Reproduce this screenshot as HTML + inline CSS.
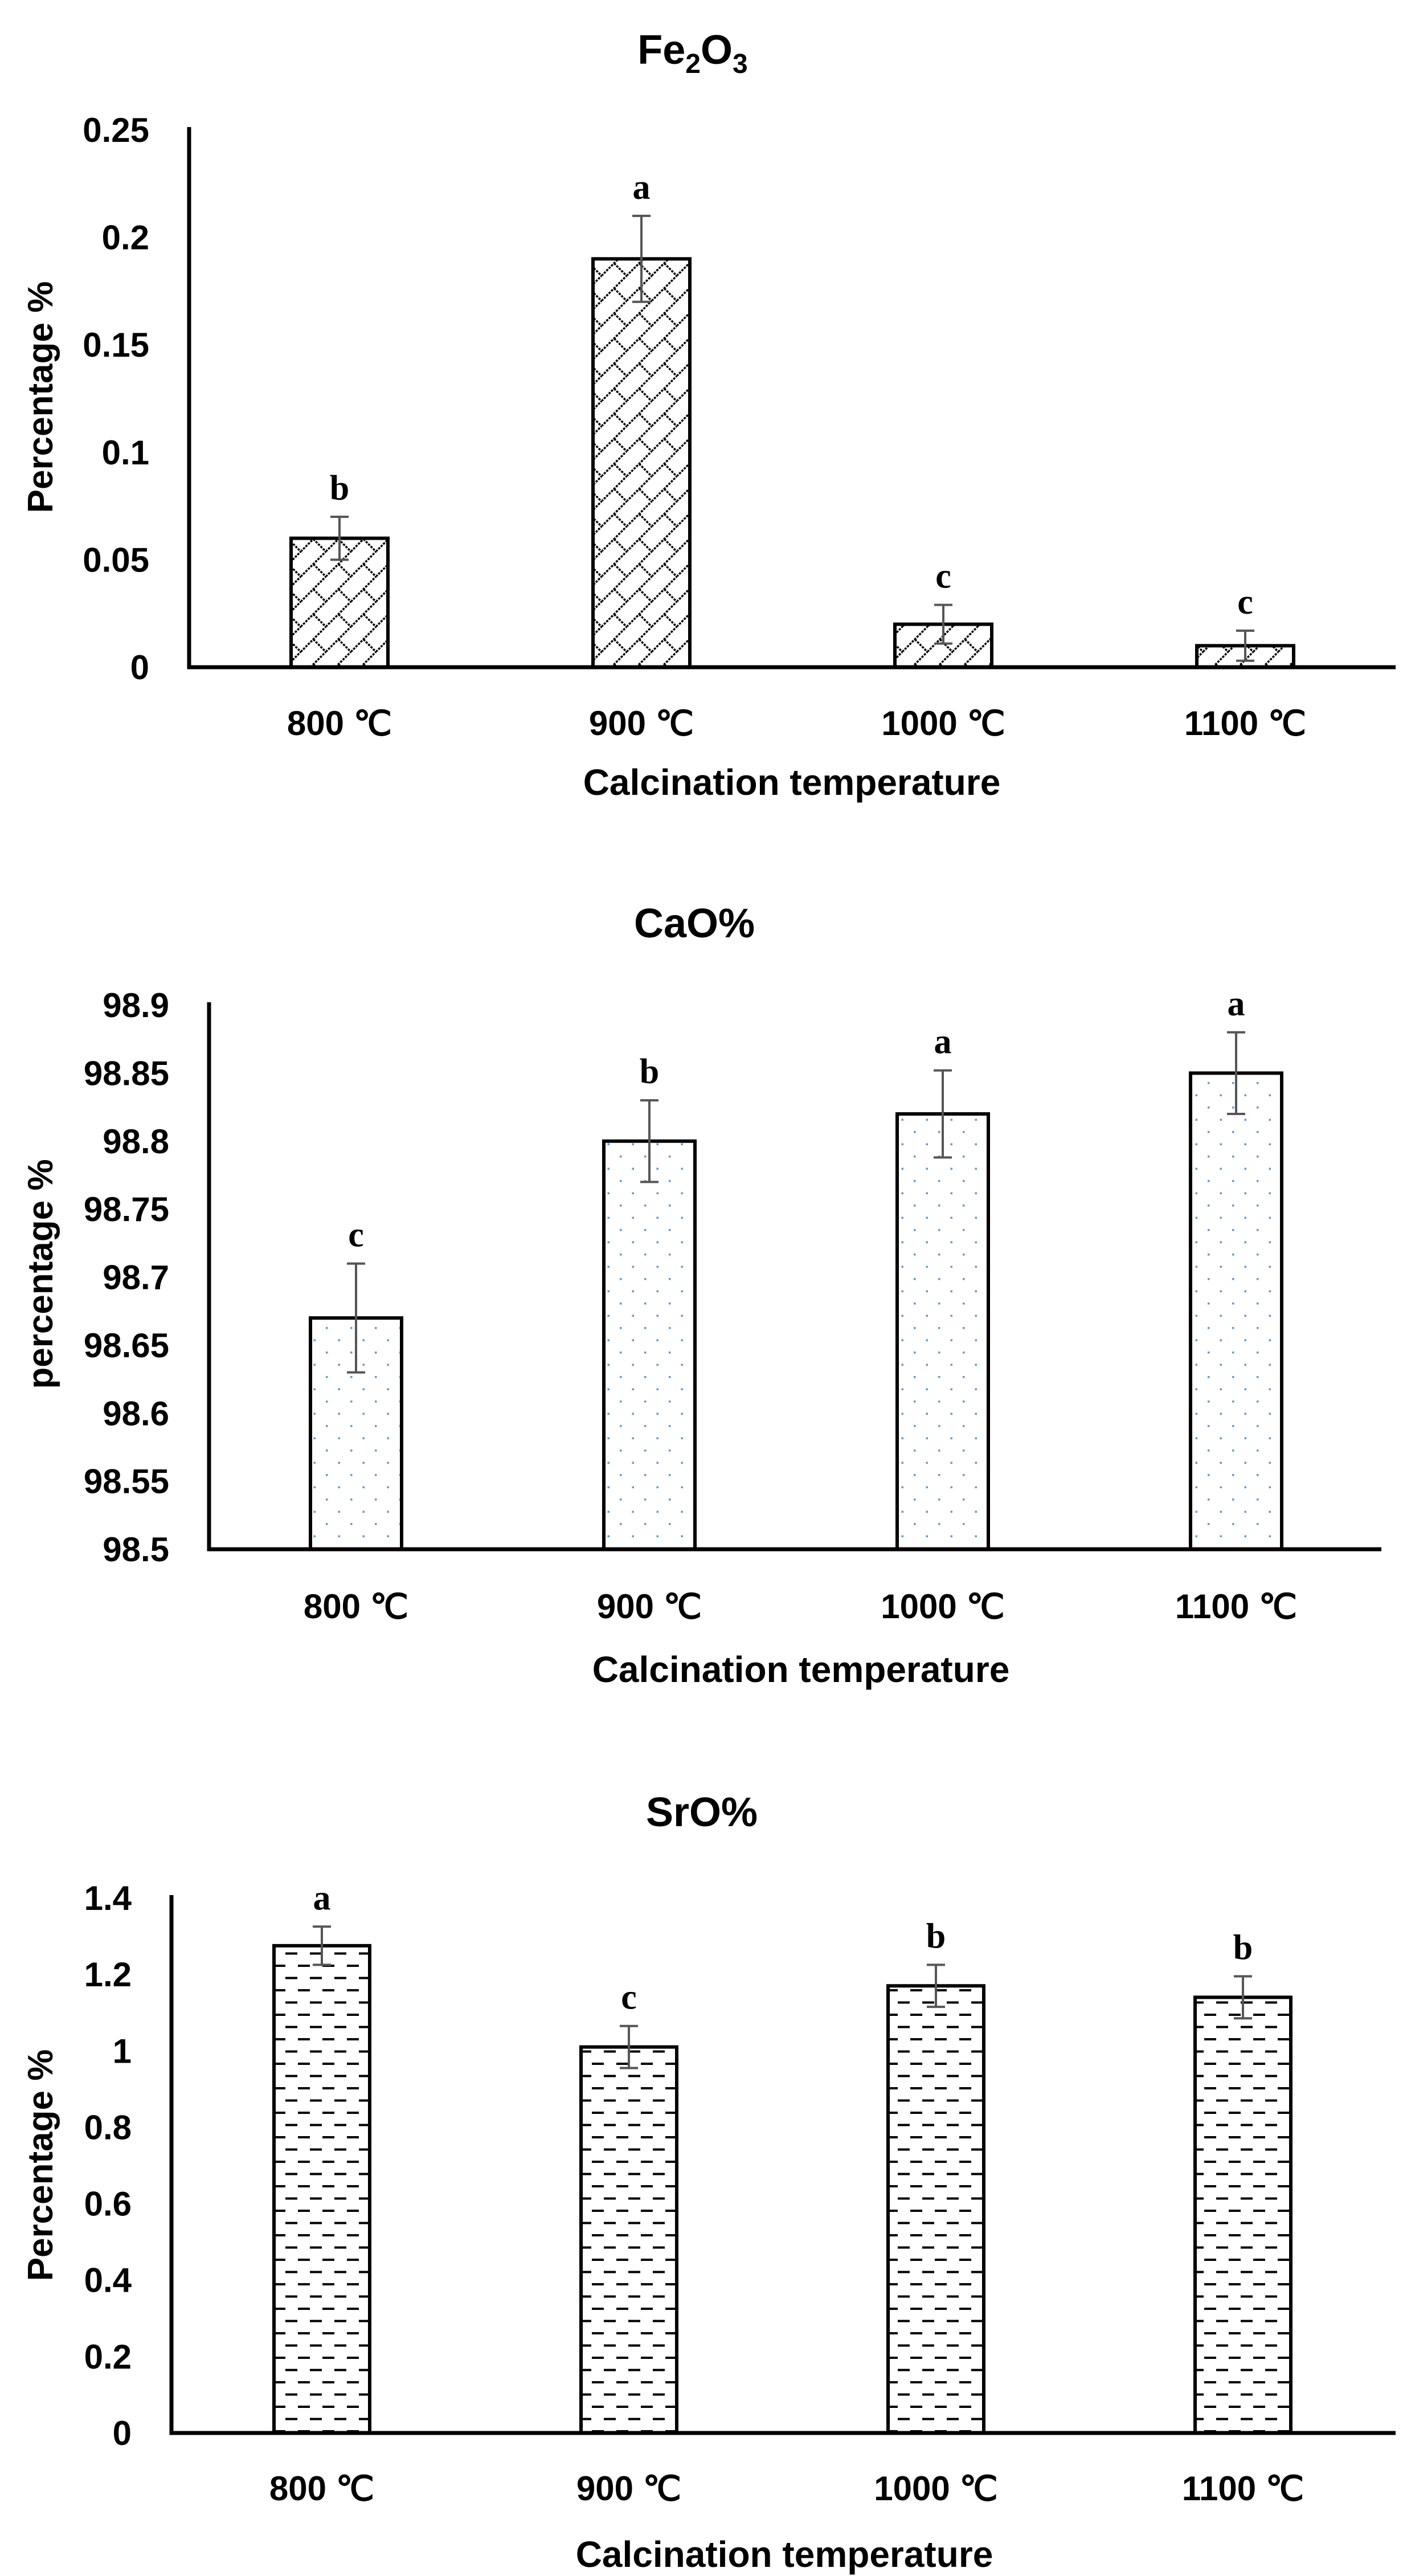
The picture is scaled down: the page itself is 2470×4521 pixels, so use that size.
<!DOCTYPE html>
<html><head><meta charset="utf-8"><style>
html,body{margin:0;padding:0;background:#fff;}
svg{display:block;}
.tick{font-family:"Liberation Sans Narrow","Liberation Sans",sans-serif;font-weight:bold;font-size:60px;fill:#000;}
.ttl{font-family:"Liberation Sans Narrow","Liberation Sans",sans-serif;font-weight:bold;font-size:72px;fill:#000;}
.axt{font-family:"Liberation Sans Narrow","Liberation Sans",sans-serif;font-weight:bold;font-size:64px;fill:#000;}
.yt{font-family:"Liberation Sans","DejaVu Sans",sans-serif;font-weight:bold;font-size:62px;fill:#000;}
.let{font-family:"Liberation Serif",serif;font-weight:bold;font-size:62px;fill:#000;}
</style></head><body>
<svg id="root" width="2470" height="4521" viewBox="0 0 2470 4521" xmlns="http://www.w3.org/2000/svg">
<defs>
<pattern id="pat-lattice" patternUnits="userSpaceOnUse" width="44" height="44">
<path d="M0 44 L44 0 M-11 11 L11 -11 M33 55 L55 33" stroke="#000" stroke-width="3.5" stroke-dasharray="4 2"/>
<path d="M22 22 L44 44 M0 0 L0 0" stroke="#000" stroke-width="3.5" stroke-dasharray="4 2"/>
</pattern>
<pattern id="pat-dots" patternUnits="userSpaceOnUse" width="43" height="43">
<rect x="13" y="7" width="3.5" height="3.5" fill="#5b9bd5"/>
<rect x="34.5" y="28.5" width="3.5" height="3.5" fill="#5b9bd5"/>
</pattern>
<pattern id="pat-dash" patternUnits="userSpaceOnUse" width="43" height="43">
<rect x="7" y="8" width="21" height="4" fill="#000"/>
<rect x="28" y="29.5" width="21" height="4" fill="#000"/>
<rect x="-15" y="29.5" width="21" height="4" fill="#000"/>
</pattern>
</defs>
<g id="c1"></g>
<g id="c2"></g>
<g id="c3"></g>
</svg>
<script>
const categories = ["800 \u2103","900 \u2103","1000 \u2103","1100 \u2103"];
const feValues = [0.06, 0.19, 0.02, 0.01];
const feErrors = [0.01, 0.02, 0.009, 0.007];
const feLetters = ["b","a","c","c"];
const feTicks = ["0","0.05","0.1","0.15","0.2","0.25"];
const caoValues = [98.67, 98.80, 98.82, 98.85];
const caoErrors = [0.04, 0.03, 0.032, 0.03];
const caoLetters = ["c","b","a","a"];
const caoTicks = ["98.5","98.55","98.6","98.65","98.7","98.75","98.8","98.85","98.9"];
const sroValues = [1.275, 1.01, 1.17, 1.14];
const sroErrors = [0.05, 0.055, 0.055, 0.055];
const sroLetters = ["a","c","b","b"];
const sroTicks = ["0","0.2","0.4","0.6","0.8","1","1.2","1.4"];

const NS="http://www.w3.org/2000/svg";
function mk(parent,tag,attrs,text){const e=document.createElementNS(NS,tag);for(const k in attrs)e.setAttribute(k,attrs[k]);if(text!==undefined)e.textContent=text;parent.appendChild(e);return e;}

function chart(g,cfg,values,errors,letters,ticks){
  const tmin=parseFloat(ticks[0]),tmax=parseFloat(ticks[ticks.length-1]);
  const y=v=>cfg.y0-(v-tmin)/(tmax-tmin)*(cfg.y0-cfg.yTop);
  const x=i=>cfg.cx0+i*cfg.step;
  const t=mk(g,'text',{x:cfg.titleX,y:cfg.titleY,'text-anchor':'middle',class:'ttl'});
  
  
  if(cfg.sub){mk(t,'tspan',{},'Fe');mk(t,'tspan',{'font-size':'48','dy':'16'},'2');mk(t,'tspan',{'dy':'-16'},'O');mk(t,'tspan',{'font-size':'48','dy':'16'},'3');}
  else t.textContent=cfg.title;
  ticks.forEach(s=>{
    const e=mk(g,'text',{x:cfg.axX-70,y:y(parseFloat(s))+21,'text-anchor':'end',class:'tick'},s);
    
    
  });
  values.forEach((v,i)=>{
    const r=mk(g,'rect',{x:x(i)-cfg.bw/2,y:y(v),width:cfg.bw,height:cfg.y0-y(v),fill:'url(#'+cfg.pat+')',stroke:'#000','stroke-width':6});
    
    
    const hi=y(v+errors[i]),lo=y(v-errors[i]);
    const eb=mk(g,'path',{d:`M${x(i)} ${hi} L${x(i)} ${lo} M${x(i)-16} ${hi} L${x(i)+16} ${hi} M${x(i)-16} ${lo} L${x(i)+16} ${lo}`,stroke:'#555','stroke-width':4,fill:'none'});
    
    
    const l=mk(g,'text',{x:x(i),y:hi-30,'text-anchor':'middle',class:'let'},letters[i]);
    
    
    const c=mk(g,'text',{x:x(i),y:cfg.xlY,'text-anchor':'middle',class:'tick'},categories[i]);
    
    
  });
  const ax=mk(g,'path',{d:`M${cfg.axX} ${cfg.yTop-5} L${cfg.axX} ${cfg.y0} L${cfg.axR} ${cfg.y0}`,stroke:'#000','stroke-width':7,fill:'none'});
  
  
  const xt=mk(g,'text',{x:cfg.xtX,y:cfg.xtY,'text-anchor':'middle',class:'axt'},'Calcination temperature');
  
  
  const yt=mk(g,'text',{x:0,y:0,'text-anchor':'middle',class:'yt',transform:`translate(${cfg.ytX},${cfg.ytY}) rotate(-90)`},cfg.ylabel);
  
  
}
chart(document.getElementById('c1'),{sub:true,titleX:1216,titleY:112,axX:332,axR:2450,y0:1171,yTop:228,cx0:596,step:530,bw:170,pat:'pat-lattice',xlY:1290,xtX:1390,xtY:1395,ytX:92,ytY:697,ylabel:'Percentage %'},feValues,feErrors,feLetters,feTicks);
chart(document.getElementById('c2'),{title:'CaO%',titleX:1219,titleY:1645,axX:367,axR:2425,y0:2719,yTop:1764,cx0:625,step:515,bw:160,pat:'pat-dots',xlY:2840,xtX:1406,xtY:2952,ytX:92,ytY:2236,ylabel:'percentage %'},caoValues,caoErrors,caoLetters,caoTicks);
chart(document.getElementById('c3'),{title:'SrO%',titleX:1232,titleY:3205,axX:301,axR:2450,y0:4270,yTop:3331,cx0:565,step:539,bw:168,pat:'pat-dash',xlY:4388,xtX:1377,xtY:4505,ytX:92,ytY:3800,ylabel:'Percentage %'},sroValues,sroErrors,sroLetters,sroTicks);
</script>
</body></html>
